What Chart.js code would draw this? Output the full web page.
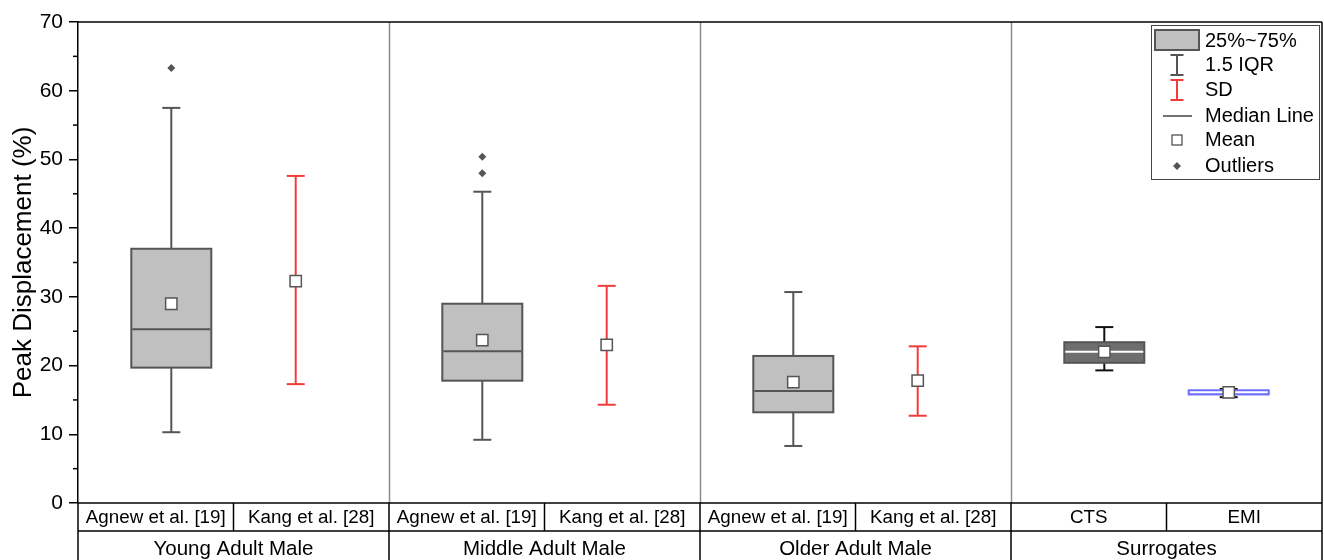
<!DOCTYPE html>
<html>
<head>
<meta charset="utf-8">
<script src="https://cdn.jsdelivr.net/npm/chart.js@4.4.0/dist/chart.umd.min.js"></script>
<style>
  html, body { margin: 0; background: #fff; }
  #wrap { width: 1324px; height: 560px; }
</style>
</head>
<body>
<div id="wrap"><canvas id="chart"></canvas></div>
<script>
const groups = ['Young Adult Male', 'Middle Adult Male', 'Older Adult Male', 'Surrogates'];
const sources = ['Agnew et al. [19]', 'Kang et al. [28]', 'Agnew et al. [19]', 'Kang et al. [28]',
                 'Agnew et al. [19]', 'Kang et al. [28]', 'CTS', 'EMI'];

// box plots: slot index into sources
const boxSlots = [0, 2, 4, 6, 7];
const boxQ1 = [19.7, 17.8, 13.2, 20.4, 15.8];
const boxMedian = [25.3, 22.1, 16.3, 22.0, 16.1];
const boxQ3 = [37.0, 29.0, 21.4, 23.4, 16.4];
const boxLow = [10.3, 9.2, 8.3, 19.3, 15.4];
const boxHigh = [57.5, 45.3, 30.7, 25.6, 16.6];
const boxMean = [29.0, 23.7, 17.6, 22.0, 16.1];

// mean +/- SD bars
const sdSlots = [1, 3, 5];
const sdLow = [17.3, 14.3, 12.7];
const sdHigh = [47.6, 31.6, 22.8];
const sdMean = [32.3, 23.0, 17.8];

const outlierSlots = [0, 2, 2];
const outlierValues = [63.3, 50.4, 48.0];

const yTicks = [0, 10, 20, 30, 40, 50, 60, 70];
const yMinor = [5, 15, 25, 35, 45, 55, 65];

const FONT = '"Liberation Sans", Arial, sans-serif';
const slotX = i => i + 0.5 + (i % 2 === 0 ? 0.1 : -0.1);

// fill, border, median, whisker
const boxLook = [
  ['#c0c0c0', '#555', '#555', '#555'],
  ['#c0c0c0', '#555', '#555', '#555'],
  ['#c0c0c0', '#555', '#555', '#555'],
  ['#6e6e6e', '#555', '#fff', '#111'],
  ['#7373ff', '#6b6bff', '#fff', '#111']
];
const SD_RED = '#f23c3c';

function line(ctx, x1, y1, x2, y2) {
  ctx.beginPath(); ctx.moveTo(x1, y1); ctx.lineTo(x2, y2); ctx.stroke();
}

function whisker(ctx, cx, yTop, yBot, cap) {
  line(ctx, cx, yTop, cx, yBot);
  line(ctx, cx - cap / 2, yTop, cx + cap / 2, yTop);
  line(ctx, cx - cap / 2, yBot, cx + cap / 2, yBot);
}

const boxPlugin = {
  id: 'boxes',
  beforeDatasetsDraw(chart) {
    const { ctx, chartArea: a, scales: { x, y } } = chart;
    ctx.save();
    ctx.strokeStyle = '#8c8c8c';
    ctx.lineWidth = 1.5;
    for (let g = 1; g < groups.length; g++) {
      const px = Math.round(x.getPixelForValue(g * 2)) + 0.5;
      line(ctx, px, a.top, px, a.bottom);
    }

    boxSlots.forEach((s, k) => {
      const [fill, border, med, wcol] = boxLook[k];
      const cx = x.getPixelForValue(slotX(s));
      const half = 40;
      ctx.lineWidth = 2;
      ctx.strokeStyle = wcol;
      line(ctx, cx, y.getPixelForValue(boxHigh[k]), cx, y.getPixelForValue(boxQ3[k]));
      line(ctx, cx, y.getPixelForValue(boxQ1[k]), cx, y.getPixelForValue(boxLow[k]));
      line(ctx, cx - 9, y.getPixelForValue(boxHigh[k]), cx + 9, y.getPixelForValue(boxHigh[k]));
      line(ctx, cx - 9, y.getPixelForValue(boxLow[k]), cx + 9, y.getPixelForValue(boxLow[k]));
      const top = y.getPixelForValue(boxQ3[k]);
      const bot = y.getPixelForValue(boxQ1[k]);
      ctx.fillStyle = fill;
      ctx.fillRect(cx - half, top, half * 2, bot - top);
      ctx.strokeStyle = border;
      ctx.strokeRect(cx - half, top, half * 2, bot - top);
      ctx.strokeStyle = med;
      const my = y.getPixelForValue(boxMedian[k]);
      line(ctx, cx - half + 1, my, cx + half - 1, my);
    });

    ctx.strokeStyle = SD_RED;
    ctx.lineWidth = 2;
    sdSlots.forEach((s, k) => {
      const cx = x.getPixelForValue(slotX(s));
      whisker(ctx, cx, y.getPixelForValue(sdHigh[k]), y.getPixelForValue(sdLow[k]), 18);
    });
    ctx.restore();
  },
  afterDraw(chart) {
    const { ctx, chartArea: a, scales: { x, y } } = chart;
    const H = chart.height;
    ctx.save();
    ctx.strokeStyle = '#000';
    ctx.lineWidth = 1.5;
    // frame
    line(ctx, a.left, a.top, a.right, a.top);
    line(ctx, a.right, a.top, a.right, H);
    // minor ticks
    yMinor.forEach(v => {
      const py = y.getPixelForValue(v);
      line(ctx, a.left - 5, py, a.left, py);
    });

    // category table
    const r1 = a.bottom + 28;
    line(ctx, a.left, a.bottom, a.right, a.bottom);
    line(ctx, a.left, r1, a.right, r1);
    line(ctx, a.left, a.bottom, a.left, H);
    for (let i = 1; i < sources.length; i++) {
      const px = x.getPixelForValue(i);
      line(ctx, px, a.bottom, px, i % 2 === 0 ? H : r1);
    }
    ctx.fillStyle = '#000';
    ctx.textAlign = 'center';
    ctx.textBaseline = 'middle';
    ctx.font = '18.8px ' + FONT;
    sources.forEach((s, i) => ctx.fillText(s, x.getPixelForValue(i + 0.5), a.bottom + 15));
    ctx.font = '20.5px ' + FONT;
    groups.forEach((g, i) => ctx.fillText(g, x.getPixelForValue(i * 2 + 1), r1 + 18));

    // legend
    const lx = 1151, ly = 25;
    ctx.fillStyle = '#fff';
    ctx.fillRect(lx, ly, 169, 155);
    ctx.strokeStyle = '#444';
    ctx.lineWidth = 1;
    ctx.strokeRect(lx + 0.5, ly + 0.5, 168, 154);
    const ix = 1177, tx = 1205;
    const rows = [41, 65, 90, 116, 140, 166];
    ctx.fillStyle = '#c0c0c0';
    ctx.fillRect(1155, 30, 44, 20);
    ctx.strokeStyle = '#555';
    ctx.lineWidth = 2;
    ctx.strokeRect(1155, 30, 44, 20);
    whisker(ctx, ix, 55, 75, 13);
    ctx.strokeStyle = SD_RED;
    whisker(ctx, ix, 80, 100, 13);
    ctx.strokeStyle = '#444';
    ctx.lineWidth = 1.5;
    line(ctx, 1163, rows[3], 1192, rows[3]);
    ctx.fillStyle = '#fff';
    ctx.strokeStyle = '#444';
    ctx.lineWidth = 1.2;
    ctx.fillRect(ix - 5, rows[4] - 5, 10, 10);
    ctx.strokeRect(ix - 5, rows[4] - 5, 10, 10);
    ctx.fillStyle = '#555';
    ctx.beginPath();
    ctx.moveTo(ix, rows[5] - 4); ctx.lineTo(ix + 4, rows[5]);
    ctx.lineTo(ix, rows[5] + 4); ctx.lineTo(ix - 4, rows[5]);
    ctx.closePath(); ctx.fill();
    ctx.fillStyle = '#000';
    ctx.textAlign = 'left';
    ctx.font = '20px ' + FONT;
    ['25%~75%', '1.5 IQR', 'SD', 'Median Line', 'Mean', 'Outliers']
      .forEach((t, i) => ctx.fillText(t, tx, rows[i]));
    ctx.restore();
  }
};

const meanPoints = boxSlots.map((s, k) => ({ x: slotX(s), y: boxMean[k] }))
  .concat(sdSlots.map((s, k) => ({ x: slotX(s), y: sdMean[k] })));
const outlierPoints = outlierSlots.map((s, k) => ({ x: slotX(s), y: outlierValues[k] }));

new Chart(document.getElementById('chart'), {
  type: 'scatter',
  data: {
    datasets: [
      {
        label: 'Mean',
        data: meanPoints,
        pointStyle: 'rect',
        pointRadius: 8,
        backgroundColor: '#fff',
        borderColor: '#555',
        borderWidth: 1.5
      },
      {
        label: 'Outliers',
        data: outlierPoints,
        pointStyle: 'rectRot',
        pointRadius: 4,
        backgroundColor: '#555',
        borderColor: '#555',
        borderWidth: 0
      }
    ]
  },
  options: {
    responsive: true,
    maintainAspectRatio: false,
    animation: false,
    layout: { autoPadding: false, padding: { left: 0, right: 2, top: 22, bottom: 57 } },
    plugins: {
      legend: { display: false },
      tooltip: { enabled: false }
    },
    scales: {
      x: { type: 'linear', min: 0, max: 8, display: false },
      y: {
        min: 0,
        max: 70,
        afterFit: s => { s.width = 78; },
        afterBuildTicks: s => { s.ticks = yTicks.map(v => ({ value: v })); },
        ticks: { font: { family: FONT, size: 21 }, color: '#000', padding: 6 },
        grid: { drawOnChartArea: false, tickLength: 9, color: '#000', lineWidth: 1.5 },
        border: { color: '#000', width: 1.5 },
        title: {
          display: true,
          text: 'Peak Displacement (%)',
          font: { family: FONT, size: 26 },
          color: '#000',
          padding: { top: 8, bottom: 0 }
        }
      }
    }
  },
  plugins: [boxPlugin]
});
</script>
</body>
</html>
